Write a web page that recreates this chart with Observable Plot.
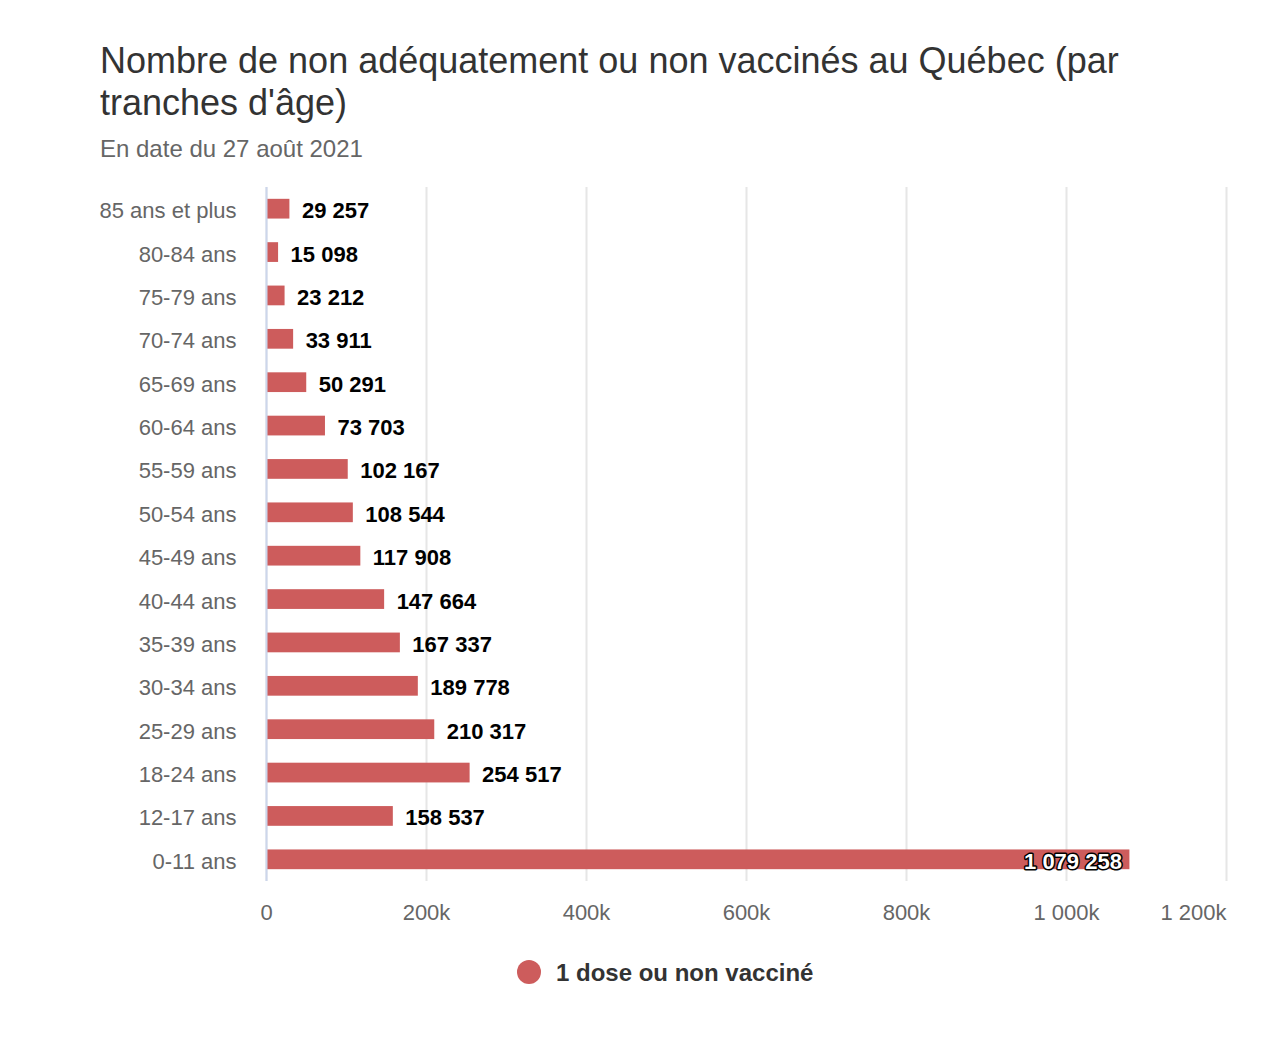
<!DOCTYPE html>
<html>
<head>
<meta charset="utf-8">
<script src="https://cdn.jsdelivr.net/npm/d3@7"></script>
<script src="https://cdn.jsdelivr.net/npm/@observablehq/plot@0.6"></script>
<style>
  html, body { margin: 0; padding: 0; background: #fff; }
  body { font-family: "Liberation Sans", Arial, Helvetica, sans-serif; }
  #wrap { position: relative; width: 1279px; height: 1043px; }
  #title { position: absolute; left: 100px; top: 40px; width: 1060px; font-size: 36px; line-height: 42px; color: #333; }
  #subtitle { position: absolute; left: 100px; top: 135px; font-size: 24px; line-height: 28px; color: #666; }
  #chart { position: absolute; left: 0; top: 170px; }
  #legend { position: absolute; left: 0; top: 957px; width: 1279px; height: 32px; }
  #legend .sw { position: absolute; left: 517px; top: 3px; width: 24px; height: 24px; border-radius: 50%; background: #cd5c5c; }
  #legend .lb { position: absolute; left: 556px; top: 0; font-size: 24px; line-height: 32px; font-weight: bold; color: #333; white-space: nowrap; }
</style>
</head>
<body>
<div id="wrap">
  <div id="title">Nombre de non adéquatement ou non vaccinés au Québec (par tranches d'âge)</div>
  <div id="subtitle">En date du 27 août 2021</div>
  <div id="chart"></div>
  <div id="legend"><div class="sw"></div><div class="lb">1 dose ou non vacciné</div></div>
</div>
<script>
const ageGroups = ["85 ans et plus", "80-84 ans", "75-79 ans", "70-74 ans", "65-69 ans", "60-64 ans", "55-59 ans", "50-54 ans", "45-49 ans", "40-44 ans", "35-39 ans", "30-34 ans", "25-29 ans", "18-24 ans", "12-17 ans", "0-11 ans"];
const counts = [29257, 15098, 23212, 33911, 50291, 73703, 102167, 108544, 117908, 147664, 167337, 189778, 210317, 254517, 158537, 1079258];
const xTicks = [0, 200000, 400000, 600000, 800000, 1000000, 1200000];
const seriesName = "1 dose ou non vacciné";

const data = ageGroups.map((a, i) => ({age: a, value: counts[i]}));
const fr = d3.formatLocale({decimal: ",", thousands: " ", grouping: [3], currency: ["", " €"]});
const fmt = fr.format(",d");
const tickFmt = d => d === 0 ? "0" : fmt(d / 1000) + "k";
const maxVal = d3.max(counts);
const outside = data.filter(d => d.value !== maxVal);
const inside = data.filter(d => d.value === maxVal);
const font = '"Liberation Sans", Arial, Helvetica, sans-serif';

const chart = Plot.plot({
  width: 1279,
  height: 770,
  marginLeft: 266,
  marginRight: 53,
  marginTop: 17,
  marginBottom: 59,
  style: {fontFamily: font, background: "#fff", overflow: "visible"},
  x: {domain: [0, 1200000], axis: null},
  y: {domain: ageGroups, paddingInner: 0.545, paddingOuter: 0.2725, round: false, label: null},
  marks: [
    Plot.gridX(xTicks, {stroke: "#e6e6e6", strokeOpacity: 1, strokeWidth: 2}),
    Plot.axisY({tickSize: 0, tickPadding: 30, fontSize: 22, fill: "#666", label: null, dy: 2}),
    Plot.barX(data, {x: "value", y: "age", fill: "#cd5c5c", insetLeft: 1}),
    Plot.ruleX([0], {stroke: "#ccd6eb", strokeWidth: 2}),
    Plot.text(outside, {x: "value", y: "age", text: d => fmt(d.value), textAnchor: "start", dx: 12, dy: 2, fontSize: 22, fontWeight: "bold", fill: "#000"}),
    Plot.text(inside, {x: "value", y: "age", text: d => fmt(d.value), textAnchor: "end", dx: -8, dy: 2, fontSize: 22, fontWeight: "bold", fill: "#fff", stroke: "#000", strokeWidth: 3, strokeLinejoin: "round"}),
    Plot.text(xTicks.slice(0, -1), {x: d => d, frameAnchor: "bottom", lineAnchor: "middle", dy: 31, text: tickFmt, textAnchor: "middle", fontSize: 22, fill: "#666"}),
    Plot.text(xTicks.slice(-1), {x: d => d, frameAnchor: "bottom", lineAnchor: "middle", dy: 31, text: tickFmt, textAnchor: "end", fontSize: 22, fill: "#666"})
  ]
});
document.getElementById("chart").appendChild(chart);
</script>
</body>
</html>
